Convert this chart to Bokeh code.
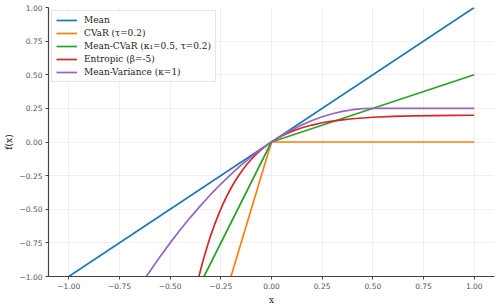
from bokeh.plotting import figure
from bokeh.models import FixedTicker, Range1d, Legend, LegendItem
from bokeh.embed import file_html
from bokeh.resources import INLINE

# ---- data ----
mean_x = [-1.0, 1.0]
mean_y = [-1.0, 1.0]

cvar_x = [-0.2, 0.0, 1.0]
cvar_y = [-1.0, 0.0, 0.0]

mcvar_x = [-0.333, 0.0, 1.0]
mcvar_y = [-1.0, 0.0, 0.5]

ent_x = [-0.358, -0.34, -0.32, -0.30, -0.28, -0.26, -0.24, -0.22, -0.20, -0.18,
         -0.16, -0.14, -0.12, -0.10, -0.08, -0.06, -0.04, -0.02, 0.0, 0.02,
         0.05, 0.10, 0.15, 0.20, 0.25, 0.30, 0.35, 0.40, 0.50, 0.60,
         0.70, 0.80, 0.90, 1.00]
ent_y = [-1.0, -0.895, -0.791, -0.696, -0.611, -0.534, -0.464, -0.401, -0.344, -0.292,
         -0.245, -0.203, -0.164, -0.130, -0.098, -0.070, -0.044, -0.021, 0.0, 0.019,
         0.044, 0.079, 0.106, 0.126, 0.143, 0.155, 0.165, 0.173, 0.184, 0.190,
         0.194, 0.196, 0.198, 0.199]

mv_x = [-0.618, -0.55, -0.50, -0.45, -0.40, -0.35, -0.30, -0.25, -0.20, -0.15,
        -0.10, -0.05, 0.0, 0.05, 0.10, 0.15, 0.20, 0.25, 0.30, 0.35,
        0.40, 0.45, 0.50, 1.00]
mv_y = [-1.0, -0.853, -0.75, -0.653, -0.56, -0.473, -0.39, -0.3125, -0.24, -0.1725,
        -0.11, -0.0525, 0.0, 0.0475, 0.09, 0.1275, 0.16, 0.1875, 0.21, 0.2275,
        0.24, 0.2475, 0.25, 0.25]

labels = ["Mean", "CVaR (τ=0.2)", "Mean-CVaR (κ₁=0.5, τ=0.2)",
          "Entropic (β=-5)", "Mean-Variance (κ=1)"]
colors = ["#1f77b4", "#ff7f0e", "#2ca02c", "#d62728", "#9467bd"]

x_ticks = [-1.0, -0.75, -0.5, -0.25, 0.0, 0.25, 0.5, 0.75, 1.0]
y_ticks = [-1.0, -0.75, -0.5, -0.25, 0.0, 0.25, 0.5, 0.75, 1.0]


def fmt(v):
    s = "%.2f" % abs(v)
    return ("\u2212" + s) if v < 0 else s


p = figure(width=498, height=307, output_backend="svg", toolbar_location=None,
           x_range=Range1d(-1.1, 1.1), y_range=Range1d(-1.0, 1.0),
           min_border_left=47, min_border_right=4, min_border_top=7,
           min_border_bottom=30)
p.outline_line_color = None
p.background_fill_color = "white"

series = [(mean_x, mean_y), (cvar_x, cvar_y), (mcvar_x, mcvar_y),
          (ent_x, ent_y), (mv_x, mv_y)]
renderers = []
for (xs, ys), c in zip(series, colors):
    r = p.line(xs, ys, line_color=c, line_width=1.7)
    renderers.append(r)

for ax, ticks in ((p.xaxis[0], x_ticks), (p.yaxis[0], y_ticks)):
    ax.ticker = FixedTicker(ticks=ticks)
    ax.major_label_overrides = {t: fmt(t) for t in ticks}
    ax.minor_tick_line_color = None
    ax.major_tick_in = 0
    ax.major_tick_out = 3
    ax.major_tick_line_color = "#444444"
    ax.axis_line_color = "#444444"
    ax.axis_line_width = 1.2
    ax.major_label_text_font = "DejaVu Sans"
    ax.major_label_text_font_size = "7.5px"
    ax.major_label_text_color = "#555555"
    ax.major_label_standoff = 3
    ax.axis_label_text_font = "DejaVu Serif"
    ax.axis_label_text_font_size = "9px"
    ax.axis_label_text_font_style = "normal"
    ax.axis_label_text_color = "#222222"

p.xaxis.axis_label = "x"
p.yaxis.axis_label = "f(x)"
p.xaxis.axis_label_standoff = 3
p.yaxis.axis_label_standoff = 3

for g in (p.xgrid[0], p.ygrid[0]):
    g.grid_line_color = "#ebebeb"
    g.grid_line_width = 0.8
p.xgrid.ticker = FixedTicker(ticks=x_ticks)
p.ygrid.ticker = FixedTicker(ticks=y_ticks)

legend = Legend(items=[LegendItem(label=l, renderers=[r]) for l, r in zip(labels, renderers)],
                location="top_left", margin=3, padding=4,
                spacing=3, label_height=10, glyph_height=10, glyph_width=21,
                label_standoff=7, label_text_font="DejaVu Serif",
                label_text_font_size="9px", label_text_color="#222222",
                border_line_color="#cccccc", border_line_width=1,
                background_fill_color="white", background_fill_alpha=0.85)
p.add_layout(legend, "center")

open("out.html", "w").write(file_html(p, INLINE))
